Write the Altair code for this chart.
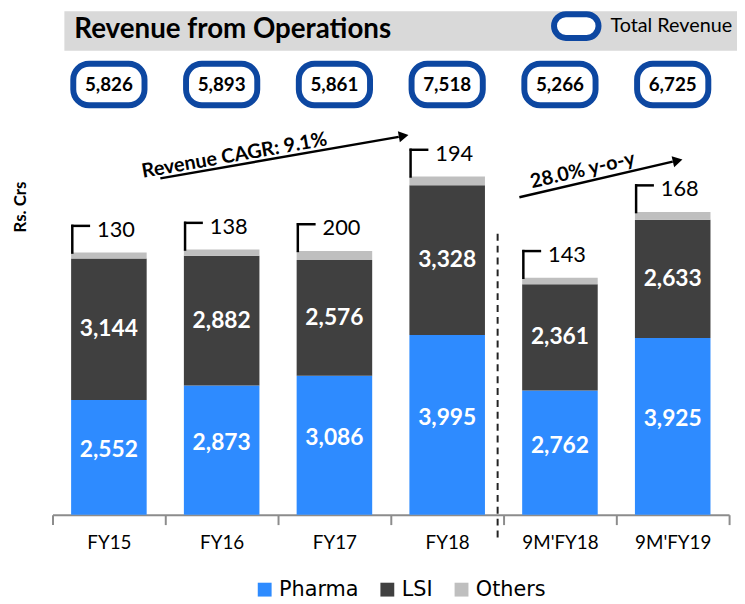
import altair as alt
import pandas as pd

categories = ["FY15", "FY16", "FY17", "FY18", "9M'FY18", "9M'FY19"]
pharma = [2552, 2873, 3086, 3995, 2762, 3925]
lsi = [3144, 2882, 2576, 3328, 2361, 2633]
others = [130, 138, 200, 194, 143, 168]
totals = [5826, 5893, 5861, 7518, 5266, 6725]
segments = ["Pharma", "LSI", "Others"]
seg_colors = ["#2E8BFF", "#404040", "#BFBFBF"]

rows = []
for i, c in enumerate(categories):
    base = 0
    for s, vals in zip(segments, [pharma, lsi, others]):
        v = vals[i]
        rows.append(dict(cat=c, seg=s, value=v, y0=base, y1=base + v, mid=base + v / 2))
        base += v
bars_df = pd.DataFrame(rows)
tops_df = pd.DataFrame(dict(
    cat=categories,
    top=[p + l + o for p, l, o in zip(pharma, lsi, others)],
    others=others,
    total=totals,
))
one = pd.DataFrame({"k": [0]})

FONT = "Lato"
BLUE = "#0D47A1"

xs = alt.Scale(domain=categories, paddingInner=0, paddingOuter=0)
x_axis = alt.Axis(title=None, tickBand="extent", domainColor="#8C8C8C", tickColor="#8C8C8C",
                  domainWidth=2, tickWidth=2, tickSize=10, labelFontSize=19, labelFont=FONT,
                  labelColor="#000000", labelPadding=9, labelAngle=0, grid=False)
X = alt.X("cat:N", sort=categories, scale=xs, axis=x_axis)
ys = alt.Scale(domain=[0, 11190], nice=False, zero=True)

bars = alt.Chart(bars_df).mark_bar(width=alt.RelativeBandSize(0.67)).encode(
    x=X,
    y=alt.Y("y1:Q", scale=ys, axis=None),
    y2="y0:Q",
    color=alt.Color("seg:N", scale=alt.Scale(domain=segments, range=seg_colors),
                    legend=alt.Legend(title=None, orient="none", direction="horizontal",
                                      legendX=204, legendY=574, symbolType="square",
                                      symbolSize=196, symbolStrokeWidth=0, symbolOpacity=1,
                                      labelFont="DejaVu Sans, Liberation Sans, sans-serif",
                                      labelFontSize=21, labelColor="#000000", labelOffset=4,
                                      columnPadding=18)),
)

pharma_labels = alt.Chart(bars_df).transform_filter(
    "datum.seg == 'Pharma'"
).mark_text(color="white", fontWeight="bold", font=FONT, fontSize=23, baseline="middle", dy=-7).encode(
    x=X,
    y=alt.Y("mid:Q", scale=ys, axis=None),
    text=alt.Text("value:Q", format=","),
)
lsi_labels = alt.Chart(bars_df).transform_filter(
    "datum.seg == 'LSI'"
).mark_text(color="white", fontWeight="bold", font=FONT, fontSize=23, baseline="middle").encode(
    x=X,
    y=alt.Y("mid:Q", scale=ys, axis=None),
    text=alt.Text("value:Q", format=","),
)

bracket_v = alt.Chart(tops_df).mark_rule(color="black", strokeWidth=2.5, xOffset=-37,
                                         y2Offset=-27, strokeCap="square").encode(
    x=X, y=alt.Y("top:Q", scale=ys, axis=None), y2="top:Q")
bracket_h = alt.Chart(tops_df).mark_tick(color="black", thickness=2.5, size=19, orient="horizontal",
                                         xOffset=-28.5, yOffset=-27, opacity=1).encode(
    x=X, y=alt.Y("top:Q", scale=ys, axis=None))
others_text = alt.Chart(tops_df).mark_text(align="left", baseline="middle", font=FONT, fontSize=22,
                                           dx=-12, dy=-23, color="black").encode(
    x=X, y=alt.Y("top:Q", scale=ys, axis=None), text=alt.Text("others:Q", format=","))

total_boxes = alt.Chart(tops_df).mark_bar(width=72, cornerRadius=16, fill="white", stroke=BLUE,
                                          strokeWidth=6).encode(
    x=X, y=alt.value(53), y2=alt.value(95))
total_text = alt.Chart(tops_df).mark_text(fontWeight="bold", font=FONT, fontSize=19, baseline="middle",
                                          color="black").encode(
    x=X, y=alt.value(74.5), text=alt.Text("total:Q", format=","))

header = alt.Chart(one).mark_rect(color="#D9D9D9").encode(
    x=alt.value(12), x2=alt.value(692), y=alt.value(0), y2=alt.value(40))
title = alt.Chart(one).mark_text(text="Revenue from Operations", font=FONT, fontWeight="bold",
                                 fontSize=28, align="left", baseline="middle", color="black").encode(
    x=alt.value(22), y=alt.value(19))
leg_box = alt.Chart(one).mark_rect(fill="white", stroke=BLUE, strokeWidth=6, cornerRadius=12).encode(
    x=alt.value(507), x2=alt.value(552), y=alt.value(3), y2=alt.value(27))
leg_text = alt.Chart(one).mark_text(text="Total Revenue", font=FONT, fontSize=20, align="left",
                                    baseline="middle", color="black").encode(
    x=alt.value(564), y=alt.value(15))

ytitle = alt.Chart(one).mark_text(text="Rs. Crs", font=FONT, fontWeight="bold", fontSize=17, angle=270,
                                  baseline="middle", color="black").encode(
    x=alt.value(-32), y=alt.value(198))

cagr_line = alt.Chart(one).mark_rule(color="black", strokeWidth=2.5).encode(
    x=alt.value(109), y=alt.value(169), x2=alt.value(350), y2=alt.value(127))
cagr_head = alt.Chart(one).mark_point(shape="triangle-right", filled=True, size=130, angle=350,
                                      color="black", opacity=1).encode(
    x=alt.value(355), y=alt.value(126))
cagr_text = alt.Chart(one).mark_text(text="Revenue CAGR: 9.1%", font=FONT, fontWeight="bold",
                                     fontSize=20, angle=350, baseline="middle", color="black").encode(
    x=alt.value(184), y=alt.value(146))

yoy_line = alt.Chart(one).mark_rule(color="black", strokeWidth=2.5).encode(
    x=alt.value(472), y=alt.value(188), x2=alt.value(627), y2=alt.value(152))
yoy_head = alt.Chart(one).mark_point(shape="triangle-right", filled=True, size=130, angle=347,
                                     color="black", opacity=1).encode(
    x=alt.value(632), y=alt.value(151))
yoy_text = alt.Chart(one).mark_text(text="28.0% y-o-y", font=FONT, fontWeight="bold",
                                    fontSize=20, angle=347, baseline="middle", color="black").encode(
    x=alt.value(536), y=alt.value(161))

divider = alt.Chart(one).mark_rule(color="#222222", strokeWidth=2, strokeDash=[7, 5]).encode(
    x=alt.value(450), y=alt.value(225), y2=alt.value(537))

chart = alt.layer(
    header, title, leg_box, leg_text,
    bars, pharma_labels, lsi_labels, bracket_v, bracket_h, others_text,
    total_boxes, total_text, ytitle,
    cagr_line, cagr_head, cagr_text, yoy_line, yoy_head, yoy_text, divider,
).properties(
    width=684, height=509,
    autosize=alt.AutoSizeParams(type="none"),
    padding={"left": 45, "top": 0, "right": 8, "bottom": 87},
    background="white",
).configure_view(stroke=None)

chart.save("out.html", embed_options={"renderer": "svg", "actions": False})
